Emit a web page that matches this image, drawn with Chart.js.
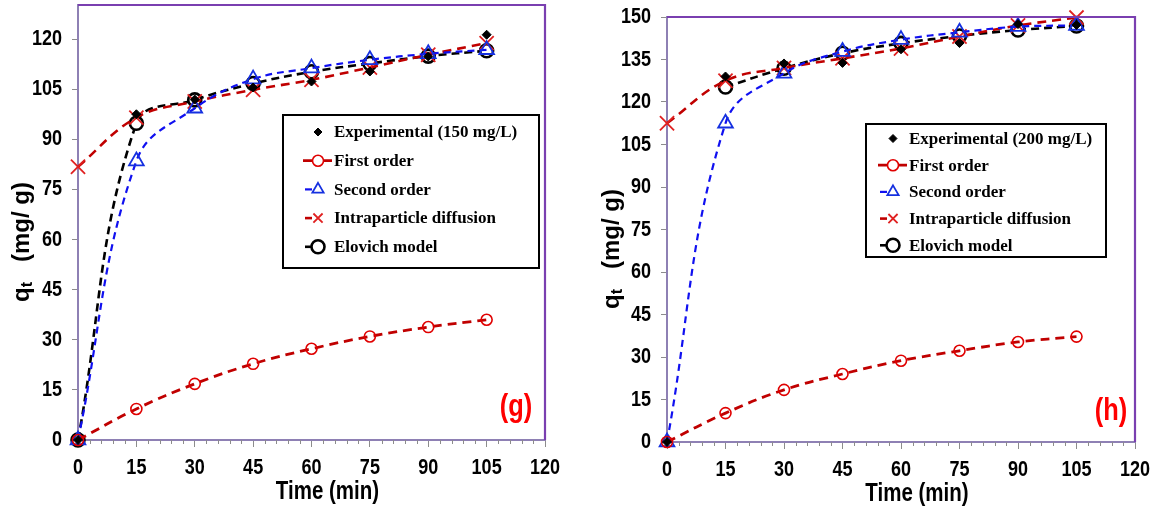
<!DOCTYPE html>
<html>
<head>
<meta charset="utf-8">
<script src="https://cdn.jsdelivr.net/npm/chart.js@4.4.1/dist/chart.umd.min.js"></script>
<style>
  html, body { margin: 0; padding: 0; background: #fff; }
  body { width: 1164px; height: 513px; position: relative; overflow: hidden; }
  canvas { position: absolute; top: 0; }
  #chartG { left: 0; }
  #chartH { left: 590px; }
</style>
</head>
<body>
<canvas id="chartG" width="570" height="513"></canvas>
<canvas id="chartH" width="574" height="513"></canvas>
<script>
// time axis (min)
const times = [0, 15, 30, 45, 60, 75, 90, 105];
const xTicks = [0, 15, 30, 45, 60, 75, 90, 105, 120];
const yTicksG = [0, 15, 30, 45, 60, 75, 90, 105, 120];
const yTicksH = [0, 15, 30, 45, 60, 75, 90, 105, 120, 135, 150];

const seriesNames = ['First order', 'Second order', 'Intraparticle diffusion', 'Elovich model'];

// (g) 150 mg/L
const expG = [0, 97.5, 101.9, 105.5, 107.3, 110.3, 114.8, 121.3];
const firstG = [0, 9.3, 16.8, 22.8, 27.3, 31.0, 33.8, 36.0];
const secondG = [0, 83.5, 99.3, 108.0, 111.3, 113.8, 115.6, 116.8];
const intraG = [81.8, 96.5, 101.3, 104.8, 107.8, 111.5, 115.3, 118.8];
const elovG = [0, 94.8, 101.8, 106.7, 110.2, 112.7, 114.9, 116.5];

// (h) 200 mg/L
const expH = [0, 129.0, 133.6, 133.8, 138.6, 140.8, 147.5, 147.2];
const firstH = [0, 10.2, 18.4, 24.0, 28.7, 32.2, 35.3, 37.2];
const secondH = [0, 112.5, 130.1, 137.8, 142.0, 144.6, 146.6, 147.0];
const intraH = [112.5, 127.5, 132.0, 135.4, 138.9, 143.1, 147.0, 149.8];
const elovH = [null, 125.3, 131.9, 137.2, 140.7, 143.3, 145.4, 146.8];

const sansFont = "'Liberation Sans', Arial, sans-serif";
const legFont = "'Liberation Serif', 'Times New Roman', serif";
const axisColor = '#8e80b4';
const frameColor = '#7a3fb0';
const narrow = 0.82; // Arial Narrow look

Chart.defaults.font.family = sansFont;
Chart.defaults.color = '#000';

function pts(values) {
    return times.map((t, i) => ({ x: t, y: values[i] }));
}

function buildDatasets(expLabel, exp, first, second, intra, elov) {
    return [
        {
            label: expLabel, data: pts(exp), showLine: false,
            pointStyle: 'rectRot', pointRadius: 4.5, pointBorderWidth: 1,
            pointBackgroundColor: '#000', pointBorderColor: '#000', borderColor: '#000'
        },
        {
            label: seriesNames[0], data: pts(first), borderColor: '#c00000', borderWidth: 2.8,
            borderDash: [9, 6], tension: 0.4, pointStyle: 'circle', pointRadius: 5.5,
            pointBorderWidth: 1.6, pointBorderColor: '#e00000', pointBackgroundColor: 'rgba(255,255,255,0)'
        },
        {
            label: seriesNames[1], data: pts(second), borderColor: '#1010f0', borderWidth: 2.2,
            borderDash: [7, 5], tension: 0.4, pointStyle: 'triangle', pointRadius: 8.5,
            pointBorderWidth: 1.8, pointBorderColor: '#1530e0', pointBackgroundColor: 'rgba(255,255,255,0)'
        },
        {
            label: seriesNames[2], data: pts(intra), borderColor: '#c00000', borderWidth: 2.6,
            borderDash: [9, 6], tension: 0.4, pointStyle: 'crossRot', pointRadius: 10,
            pointBorderWidth: 1.8, pointBorderColor: '#e02020', pointBackgroundColor: 'rgba(0,0,0,0)'
        },
        {
            label: seriesNames[3], data: pts(elov), borderColor: '#000', borderWidth: 2.6,
            borderDash: [8, 5], tension: 0.4, pointStyle: 'circle', pointRadius: 6.5,
            pointBorderWidth: 2.6, pointBorderColor: '#000', pointBackgroundColor: '#fff',
            spanGaps: false
        }
    ];
}

// text squeezed horizontally
function narrowText(ctx, text, x, y, align, font) {
    ctx.save();
    ctx.font = font;
    ctx.textAlign = align;
    ctx.textBaseline = 'middle';
    ctx.translate(x, y);
    ctx.scale(narrow, 1);
    ctx.fillText(text, 0, 0);
    ctx.restore();
}

// frame, tick labels, minor ticks, titles, panel tag and boxed legend
const decor = {
    id: 'decor',
    afterDraw(chart, args, o) {
        const ctx = chart.ctx;
        const area = chart.chartArea;
        const xs = chart.scales.x;
        const ys = chart.scales.y;
        ctx.save();

        // minor ticks every 3 min
        ctx.strokeStyle = '#8c8c8c';
        ctx.lineWidth = 1;
        for (let v = 3; v < 120; v += 3) {
            if (v % 15 === 0) continue;
            const px = Math.round(xs.getPixelForValue(v)) + 0.5;
            ctx.beginPath();
            ctx.moveTo(px, area.bottom);
            ctx.lineTo(px, area.bottom + 4);
            ctx.stroke();
        }

        // top and right border
        ctx.strokeStyle = frameColor;
        ctx.lineWidth = 2.2;
        ctx.beginPath();
        ctx.moveTo(area.left, area.top);
        ctx.lineTo(area.right, area.top);
        ctx.lineTo(area.right, area.bottom);
        ctx.stroke();

        // tick labels and x title
        ctx.fillStyle = '#000';
        const tickFont = 'bold 22px ' + sansFont;
        xs.ticks.forEach(t => {
            narrowText(ctx, String(t.value), xs.getPixelForValue(t.value), area.bottom + 28, 'center', tickFont);
        });
        ys.ticks.forEach(t => {
            narrowText(ctx, String(t.value), area.left - 16, ys.getPixelForValue(t.value), 'right', tickFont);
        });
        narrowText(ctx, 'Time (min)', (area.left + area.right) / 2 + 16, area.bottom + 52, 'center', 'bold 25px ' + sansFont);

        // y title with subscript
        ctx.save();
        ctx.translate(o.yTitle[0], o.yTitle[1]);
        ctx.rotate(-Math.PI / 2);
        ctx.textBaseline = 'middle';
        ctx.textAlign = 'left';
        const big = 'bold 24px ' + sansFont;
        const small = 'bold 16px ' + sansFont;
        ctx.font = big;
        const wq = ctx.measureText('q').width;
        const wr = ctx.measureText('   (mg/ g)').width;
        ctx.font = small;
        const wt = ctx.measureText('t').width;
        const sx = -(wq + wt + wr) / 2;
        ctx.font = big;
        ctx.fillText('q', sx, 0);
        ctx.font = small;
        ctx.fillText('t', sx + wq, 6);
        ctx.font = big;
        ctx.fillText('   (mg/ g)', sx + wq + wt, 0);
        ctx.restore();

        // panel tag
        ctx.fillStyle = '#ff0000';
        narrowText(ctx, o.tag, o.tagPos[0], o.tagPos[1], 'center', 'bold 31px ' + sansFont);

        // legend box
        const b = o.box;
        ctx.strokeStyle = '#000';
        ctx.lineWidth = 2;
        ctx.strokeRect(b[0], b[1], b[2], b[3]);
        ctx.font = 'bold 17px ' + legFont;
        ctx.textAlign = 'left';
        ctx.textBaseline = 'middle';
        chart.data.datasets.forEach((ds, i) => {
            const y = o.rowY + i * o.rowGap;
            const mx = o.markerX;
            if (ds.showLine !== false) {
                ctx.strokeStyle = ds.borderColor;
                ctx.lineWidth = ds.borderWidth;
                ctx.beginPath();
                ctx.moveTo(mx - (i === 1 ? 15 : 13), y);
                ctx.lineTo(mx - 6, y);
                if (i === 1) {
                    ctx.moveTo(mx + 6, y);
                    ctx.lineTo(mx + 14, y);
                }
                ctx.stroke();
            }
            ctx.strokeStyle = ds.pointBorderColor;
            ctx.fillStyle = ds.pointBackgroundColor;
            ctx.lineWidth = ds.pointBorderWidth;
            Chart.helpers.drawPoint(ctx, {
                pointStyle: ds.pointStyle,
                radius: ds.pointStyle === 'rectRot' ? 4 : Math.min(ds.pointRadius, 6.5),
                rotation: 0,
                borderWidth: ds.pointBorderWidth
            }, mx, y);
            ctx.fillStyle = '#000';
            ctx.fillText(ds.label, o.textX, y + 1);
        });
        ctx.restore();
    }
};

function makeChart(id, cfg) {
    return new Chart(document.getElementById(id), {
        type: 'line',
        data: { datasets: cfg.datasets.map(d => ({ ...d, clip: false })) },
        plugins: [decor],
        options: {
            responsive: false,
            animation: false,
            events: [],
            layout: { autoPadding: false, padding: { top: cfg.padTop, right: cfg.padRight, left: 0, bottom: 0 } },
            plugins: {
                legend: { display: false },
                tooltip: { enabled: false },
                decor: cfg.decor
            },
            scales: {
                x: {
                    type: 'linear', min: 0, max: 120,
                    afterBuildTicks: s => { s.ticks = xTicks.map(v => ({ value: v })); },
                    afterFit: s => { s.height = cfg.xHeight; },
                    ticks: { display: false },
                    grid: { drawOnChartArea: false, drawTicks: true, tickLength: 7, color: '#8c8c8c', lineWidth: 1 },
                    border: { color: axisColor, width: 2 }
                },
                y: {
                    type: 'linear', min: 0, max: cfg.yMax,
                    afterBuildTicks: s => { s.ticks = cfg.yTicks.map(v => ({ value: v })); },
                    afterFit: s => { s.width = cfg.yWidth; },
                    ticks: { display: false },
                    grid: { drawOnChartArea: false, drawTicks: true, tickLength: 6, color: '#8c8c8c', lineWidth: 1 },
                    border: { color: axisColor, width: 2 }
                }
            }
        }
    });
}

makeChart('chartG', {
    datasets: buildDatasets('Experimental (150 mg/L)', expG, firstG, secondG, intraG, elovG),
    yMax: 130.2, yTicks: yTicksG,
    padTop: 5, padRight: 25, xHeight: 73, yWidth: 78,
    decor: {
        yTitle: [22, 242], tag: '(g)', tagPos: [516, 407],
        box: [283, 115, 256, 153], rowY: 132, rowGap: 28.7, markerX: 318, textX: 334
    }
});

makeChart('chartH', {
    datasets: buildDatasets('Experimental (200 mg/L)', expH, firstH, secondH, intraH, elovH),
    yMax: 150, yTicks: yTicksH,
    padTop: 17, padRight: 29, xHeight: 71, yWidth: 77,
    decor: {
        yTitle: [22, 249], tag: '(h)', tagPos: [521, 411],
        box: [276, 124, 240, 133], rowY: 138.5, rowGap: 26.7, markerX: 303, textX: 319
    }
});
</script>
</body>
</html>
